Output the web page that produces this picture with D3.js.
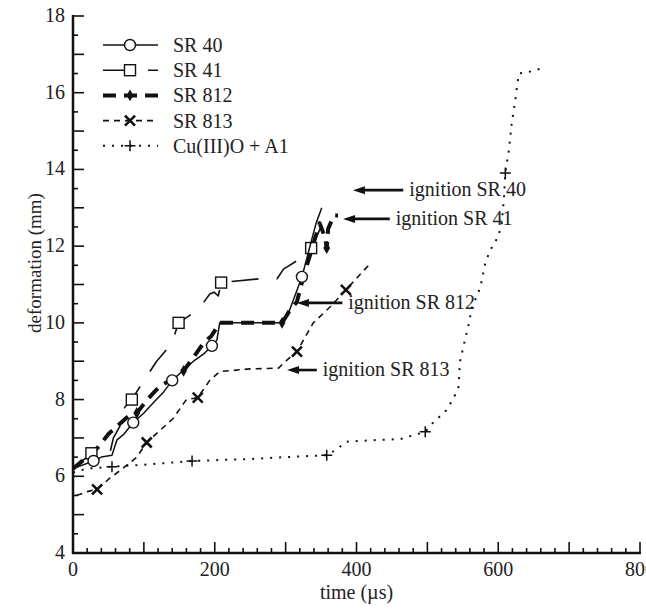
<!DOCTYPE html>
<html>
<head>
<meta charset="utf-8">
<script src="https://cdn.jsdelivr.net/npm/d3@7"></script>
<style>
  body { margin: 0; background: #fff; }
  text { font-family: "Liberation Serif", "Times New Roman", serif; fill: #222; }
</style>
</head>
<body>
<svg id="chart" width="646" height="609"></svg>
<script>
// series: time (µs) and deformation (mm)
var sr40T = [0, 29, 40, 55, 62, 72, 85, 100, 115, 128, 140, 155, 170, 185, 196, 203, 207, 250, 295, 305, 315, 323, 333, 343, 351];
var sr40Y = [6.2, 6.4, 6.5, 6.55, 6.95, 7.1, 7.4, 7.65, 7.95, 8.2, 8.5, 8.75, 9.0, 9.2, 9.4, 9.55, 10.0, 10.0, 10.0, 10.3, 10.8, 11.2, 11.9, 12.6, 13.0];
var sr40MarkT = [29, 85, 140, 196, 323];
var sr40MarkY = [6.4, 7.4, 8.5, 9.4, 11.2];

var sr41T = [0, 26, 52, 57, 66, 73, 83, 95, 118, 139, 149, 177, 193, 199, 205, 209, 264, 288, 297, 323, 336, 350, 363];
var sr41Y = [6.2, 6.6, 6.6, 7.0, 7.3, 7.8, 8.0, 8.35, 9.0, 9.45, 10.0, 10.35, 10.75, 10.8, 10.7, 11.05, 11.15, 11.15, 11.4, 11.7, 11.95, 12.5, 12.95];
var sr41MarkT = [26, 83, 149, 209, 336];
var sr41MarkY = [6.6, 8.0, 10.0, 11.05, 11.95];

var sr812T = [0, 20, 35, 50, 65, 80, 90, 105, 120, 140, 156, 170, 185, 195, 207, 250, 295, 305, 316, 325, 335, 348, 356, 358, 360, 368, 374];
var sr812Y = [6.2, 6.5, 6.75, 7.1, 7.35, 7.6, 7.65, 8.0, 8.3, 8.55, 8.75, 9.1, 9.5, 9.65, 10.0, 10.0, 10.0, 10.3, 10.55, 11.2, 11.8, 12.6, 12.2, 11.95, 12.45, 12.8, 12.8];
var sr812MarkT = [28, 90, 156, 295, 325, 358];
var sr812MarkY = [6.6, 7.65, 8.75, 10.0, 11.2, 11.95];

var sr813T = [5, 20, 34, 52, 70, 90, 104, 120, 141, 160, 176, 193, 207, 250, 290, 300, 316, 339, 363, 385, 417];
var sr813Y = [5.5, 5.6, 5.66, 5.95, 6.2, 6.5, 6.88, 7.15, 7.5, 8.0, 8.05, 8.5, 8.73, 8.8, 8.82, 9.0, 9.25, 10.0, 10.42, 10.86, 11.5];
var sr813MarkT = [34, 104, 176, 316, 385];
var sr813MarkY = [5.66, 6.88, 8.05, 9.25, 10.86];

var cuT = [0, 20, 55, 100, 168, 250, 300, 358, 372, 385, 433, 462, 497, 509, 525, 537, 544, 546, 553, 558, 563, 575, 582, 589, 600, 605, 608, 610, 615, 619, 624, 629, 645, 664];
var cuY = [6.1, 6.2, 6.25, 6.3, 6.4, 6.45, 6.5, 6.55, 6.7, 6.9, 6.95, 6.97, 7.16, 7.42, 7.68, 8.03, 8.34, 8.99, 9.55, 9.94, 10.4, 10.94, 11.59, 11.9, 12.25, 12.6, 13.24, 13.91, 14.5, 15.2, 15.8, 16.5, 16.55, 16.65];
var cuMarkT = [55, 168, 358, 497, 610];
var cuMarkY = [6.25, 6.4, 6.55, 7.16, 13.91];

var seriesNames = ["SR 40", "SR 41", "SR 812", "SR 813", "Cu(III)O + A1"];

// ignition arrows: label, arrow tip (time, deformation), arrow tail time
var ignitionText = ["ignition SR 40", "ignition SR 41", "ignition SR 812", "ignition SR 813"];
var ignitionTipT = [395, 381, 316, 302];
var ignitionTailT = [466, 447, 380, 344];
var ignitionY = [13.46, 12.71, 10.52, 8.77];

var svg = d3.select("#chart"),
	margin = {top: 16, right: 6, bottom: 56, left: 73},
	width = +svg.attr("width"),
	height = +svg.attr("height");

var x = d3.scaleLinear().domain([0, 800]).range([margin.left, 640]);
var y = d3.scaleLinear().domain([4, 18]).range([553, margin.top]);

svg.append("rect").attr("width", width).attr("height", height).attr("fill", "#fff");

// axes: ticks point inward, labels every 200 / 2
var xMinor = d3.range(0, 801, 20);
var yMinor = d3.range(4, 18.01, 0.5);

var gx = svg.append("g").attr("transform", "translate(0," + y(4) + ")");
gx.selectAll("line.tick").data(xMinor).enter().append("line")
	.attr("x1", d => x(d)).attr("x2", d => x(d))
	.attr("y1", 0).attr("y2", d => d % 100 == 0 ? -11 : -5)
	.attr("stroke", "#111").attr("stroke-width", 1.6);
gx.append("line").attr("x1", x(0) - 1).attr("x2", x(800) + 1)
	.attr("stroke", "#111").attr("stroke-width", 2.5);
gx.selectAll("text").data(d3.range(0, 801, 200)).enter().append("text")
	.attr("x", d => x(d)).attr("y", 23)
	.attr("text-anchor", "middle").style("font-size", "20px")
	.text(d => d);
svg.append("text")
	.attr("x", x(400)).attr("y", 599)
	.attr("text-anchor", "middle").style("font-size", "20px")
	.text("time (\u00b5s)");

var gy = svg.append("g").attr("transform", "translate(" + x(0) + ",0)");
gy.selectAll("line.tick").data(yMinor).enter().append("line")
	.attr("y1", d => y(d)).attr("y2", d => y(d))
	.attr("x1", 0).attr("x2", d => Math.abs(d - Math.round(d)) < 1e-6 ? 11 : 5)
	.attr("stroke", "#111").attr("stroke-width", 1.6);
gy.append("line").attr("y1", y(4) + 1).attr("y2", y(18) - 1)
	.attr("stroke", "#111").attr("stroke-width", 2.5);
gy.selectAll("text").data(d3.range(4, 18.1, 2)).enter().append("text")
	.attr("x", -8).attr("y", d => y(d) + 6)
	.attr("text-anchor", "end").style("font-size", "20px")
	.text(d => d);
svg.append("text")
	.attr("transform", "translate(41," + 263 + ") rotate(-90)")
	.attr("text-anchor", "middle").style("font-size", "19px")
	.text("deformation (mm)");

// series styles
var styles = [
	{t: sr40T, v: sr40Y, mt: sr40MarkT, mv: sr40MarkY, width: 1.5, dash: null, mark: "circle"},
	{t: sr41T, v: sr41Y, mt: sr41MarkT, mv: sr41MarkY, width: 1.6, dash: "27,18", mark: "square"},
	{t: sr812T, v: sr812Y, mt: sr812MarkT, mv: sr812MarkY, width: 4, dash: "13,8", mark: "diamond"},
	{t: sr813T, v: sr813Y, mt: sr813MarkT, mv: sr813MarkY, width: 1.6, dash: "6,5", mark: "cross"},
	{t: cuT, v: cuY, mt: cuMarkT, mv: cuMarkY, width: 2, dash: "2,7", mark: "plus"}
];

var line = d3.line().x(d => x(d[0])).y(d => y(d[1]));

function drawMarker(g, kind, px, py) {
	if (kind == "circle") {
		g.append("circle").attr("cx", px).attr("cy", py).attr("r", 5.5)
			.attr("fill", "#fff").attr("stroke", "#111").attr("stroke-width", 1.4);
	} else if (kind == "square") {
		g.append("rect").attr("x", px - 5.5).attr("y", py - 5.5).attr("width", 11).attr("height", 11)
			.attr("fill", "#fff").attr("stroke", "#111").attr("stroke-width", 1.4);
	} else if (kind == "diamond") {
		g.append("path").attr("d", d3.symbol(d3.symbolDiamond, 40)())
			.attr("transform", "translate(" + px + "," + py + ")")
			.attr("fill", "#111");
	} else if (kind == "cross") {
		g.append("path").attr("d", "M-5,-5L5,5M-5,5L5,-5")
			.attr("transform", "translate(" + px + "," + py + ")")
			.attr("stroke", "#111").attr("stroke-width", 2.6).attr("fill", "none");
	} else {
		g.append("path").attr("d", "M-5.5,0H5.5M0,-5.5V5.5")
			.attr("transform", "translate(" + px + "," + py + ")")
			.attr("stroke", "#111").attr("stroke-width", 1.5).attr("fill", "none");
	}
}

var plot = svg.append("g");
styles.slice().reverse().forEach(function(s) {
	var pts = s.t.map((t, i) => [t, s.v[i]]);
	plot.append("path")
		.attr("d", line(pts))
		.attr("fill", "none")
		.attr("stroke", "#111")
		.attr("stroke-width", s.width)
		.attr("stroke-dasharray", s.dash)
		.attr("stroke-linejoin", "round");
	s.mt.forEach((t, i) => drawMarker(plot, s.mark, x(t), y(s.mv[i])));
});

// legend
var legend = svg.append("g");
seriesNames.forEach(function(name, i) {
	var s = styles[i], ly = 45 + i * 25.2;
	legend.append("line")
		.attr("x1", 103).attr("x2", 158).attr("y1", ly).attr("y2", ly)
		.attr("stroke", "#111").attr("stroke-width", s.width)
		.attr("stroke-dasharray", s.dash);
	drawMarker(legend, s.mark, 130, ly);
	legend.append("text")
		.attr("x", 173).attr("y", ly + 7)
		.style("font-size", "20px")
		.text(name);
});

// ignition arrows (head drawn as a filled triangle at the tip)
var notes = svg.append("g");
ignitionText.forEach(function(txt, i) {
	var ay = y(ignitionY[i]), tip = x(ignitionTipT[i]), tail = x(ignitionTailT[i]);
	notes.append("line")
		.attr("x1", tail).attr("x2", tip + 8)
		.attr("y1", ay).attr("y2", ay)
		.attr("stroke", "#111").attr("stroke-width", 2.6);
	notes.append("path")
		.attr("d", "M" + tip + "," + ay + "L" + (tip + 12) + "," + (ay - 4) + "L" + (tip + 12) + "," + (ay + 4) + "Z")
		.attr("fill", "#111");
	notes.append("text")
		.attr("x", tail + 6).attr("y", ay + 6)
		.style("font-size", "20px")
		.text(txt);
});
</script>
</body>
</html>
